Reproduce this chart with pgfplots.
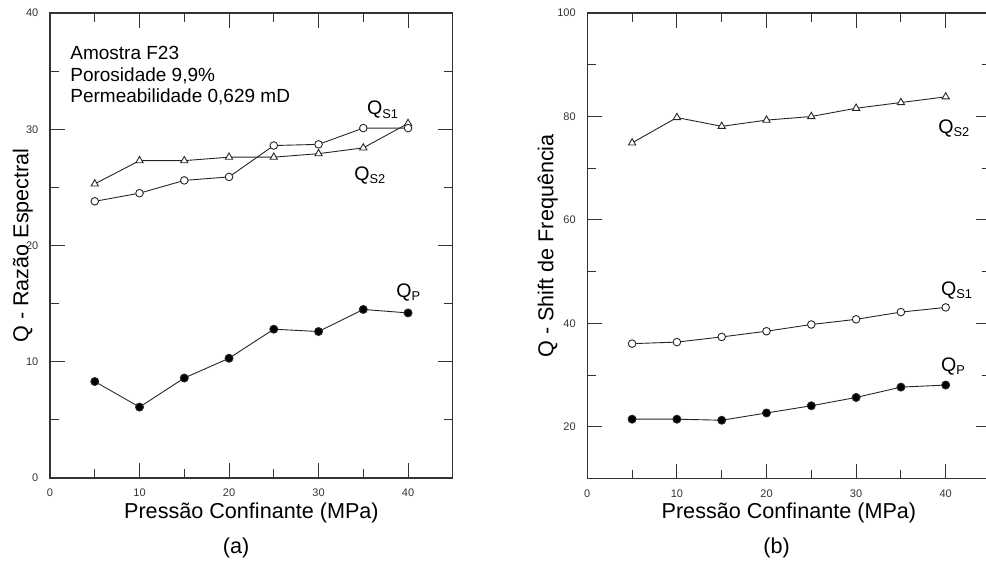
\documentclass[border=0pt]{standalone}
\usepackage{fontspec}
\setmainfont{Liberation Sans}
\usepackage{pgfplots}
\pgfplotsset{compat=1.18}
\newcommand{\QQ}[1]{Q{\fontsize{6.4}{7}\selectfont\raisebox{-1.6pt}{#1}}}
\tikzset{
  qnode/.style={anchor=base west, inner sep=0pt, font=\fontsize{9.8}{11}\selectfont},
  open circ/.style={mark=*, mark size=1.9pt, mark options={fill=white, solid}},
  open tri/.style={mark=triangle*, mark size=2.1pt, mark options={fill=white, solid}},
  full circ/.style={mark=*, mark size=2pt, mark options={fill=black, solid}},
}
\begin{document}
\begin{tikzpicture}
\useasboundingbox (0,0) rectangle (493pt,281.5pt);
\pgfplotsset{
  common/.style={
    scale only axis, clip=false,
    axis line style={black!80, line width=0.6pt},
    tick align=inside, major tick length=7.5pt, minor tick length=4.5pt,
    tick style={black!80, line width=0.5pt},
    ticklabel style={font=\fontsize{5.5}{6}\selectfont, text=black!80},
    /pgf/number format/assume math mode=true,
    xmin=0, xmax=45, xtick={0,10,20,30,40}, minor xtick={5,15,25,35},
    xticklabel style={yshift=-1.8pt}, yticklabel style={xshift=-2.3pt},
    label style={font=\fontsize{10.8}{12}\selectfont},
    xlabel style={at={(axis description cs:0.5,0)}, anchor=base, yshift=-20pt},
    every axis plot/.append style={black!85, line width=0.45pt},
  },
}
% ---------------- (a)
\begin{axis}[common, at={(25pt,42.5pt)}, anchor=south west,
  width=201.4pt, height=232.5pt,
  ymin=0, ymax=40, ytick={0,10,20,30,40}, minor ytick={5,15,25,35},
  xlabel={Pressão Confinante (MPa)},
  ylabel={Q - Razão Espectral},
  ylabel style={at={(axis description cs:-0.0539,0.5)}, anchor=base},
]
\addplot[open tri] coordinates {(5,25.3) (10,27.3) (15,27.3) (20,27.6) (25,27.6) (30,27.9) (35,28.4) (40,30.5)};
\addplot[open circ] coordinates {(5,23.8) (10,24.5) (15,25.6) (20,25.9) (25,28.6) (30,28.7) (35,30.1) (40,30.1)};
\addplot[full circ] coordinates {(5,8.3) (10,6.1) (15,8.6) (20,10.3) (25,12.8) (30,12.6) (35,14.5) (40,14.2)};
\node[anchor=north west, inner sep=0pt, align=left, font=\fontsize{9.5}{10.75}\selectfont]
  at (axis cs:2.23,37.16) {Amostra F23\\Porosidade 9,9\%\\Permeabilidade 0,629 mD};
\node[qnode] at (axis cs:35.38,31.23) {\QQ{S1}};
\node[qnode] at (axis cs:33.96,25.63) {\QQ{S2}};
\node[qnode] at (axis cs:38.66,15.57) {\QQ{P}};
\node[anchor=center, font=\fontsize{10.8}{12}\selectfont] at (axis description cs:0.4618,-0.1505) {(a)};
\end{axis}
% ---------------- (b)
\begin{axis}[common, at={(293.65pt,42.15pt)}, anchor=south west,
  width=201.6pt, height=232.85pt,
  ymin=10, ymax=100, ytick={20,40,60,80,100}, minor ytick={30,50,70,90},
  xlabel={Pressão Confinante (MPa)},
  ylabel={Q - Shift de Frequência},
  ylabel style={at={(axis description cs:-0.0843,0.5)}, anchor=base},
]
\addplot[open tri] coordinates {(5,74.9) (10,79.8) (15,78.1) (20,79.3) (25,80.0) (30,81.6) (35,82.7) (40,83.8)};
\addplot[open circ] coordinates {(5,36.1) (10,36.4) (15,37.4) (20,38.5) (25,39.8) (30,40.8) (35,42.2) (40,43.1)};
\addplot[full circ] coordinates {(5,21.5) (10,21.5) (15,21.3) (20,22.7) (25,24.1) (30,25.7) (35,27.7) (40,28.1)};
\node[qnode] at (axis cs:39.14,76.80) {\QQ{S2}};
\node[qnode] at (axis cs:39.44,45.50) {\QQ{S1}};
\node[qnode] at (axis cs:39.44,30.68) {\QQ{P}};
\node[anchor=center, font=\fontsize{10.8}{12}\selectfont] at (axis description cs:0.4697,-0.1488) {(b)};
\end{axis}
\end{tikzpicture}
\end{document}
